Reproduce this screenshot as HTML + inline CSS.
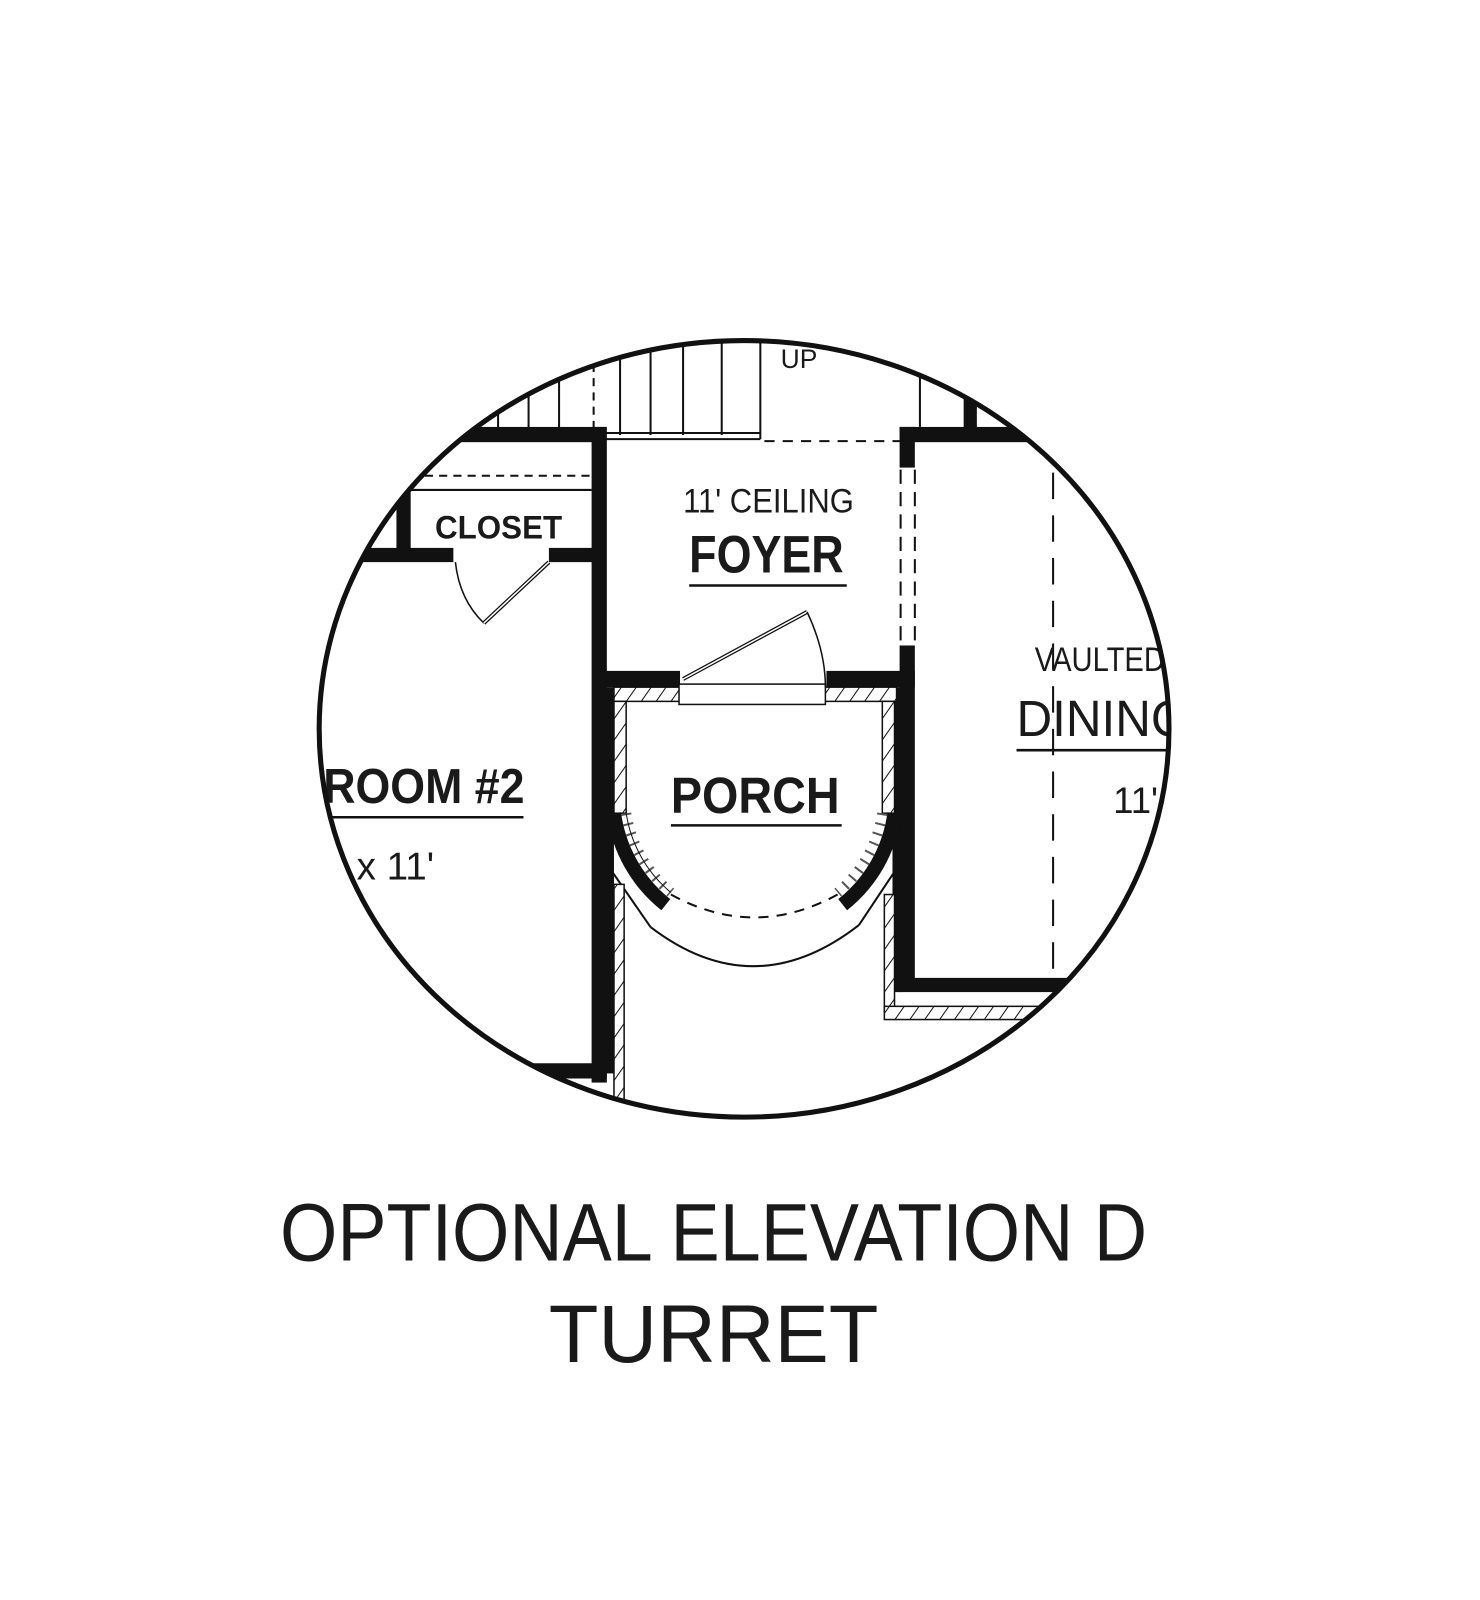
<!DOCTYPE html>
<html><head><meta charset="utf-8"><style>
html,body{margin:0;padding:0;background:#fff;}
svg{display:block;}
.t{font-family:"Liberation Sans",sans-serif;fill:#1a1a1a;}
</style></head><body>
<svg width="1480" height="1600" viewBox="0 0 1480 1600" xmlns="http://www.w3.org/2000/svg">
<defs>
<clipPath id="c"><ellipse cx="732" cy="717" rx="418" ry="382"/></clipPath>
<pattern id="h" width="12" height="12" patternUnits="userSpaceOnUse" patternTransform="rotate(35)">
<rect width="12" height="12" fill="#fff"/><line x1="0" y1="0" x2="0" y2="12" stroke="#111" stroke-width="2"/></pattern>
</defs>
<g transform="scale(1.0165)">
<g clip-path="url(#c)" stroke-linecap="butt">
<g stroke="#111" stroke-width="2">
<line x1="490" y1="330" x2="490" y2="430"/><line x1="520" y1="330" x2="520" y2="430"/><line x1="550" y1="330" x2="550" y2="430"/>
<line x1="584" y1="330" x2="584" y2="425" stroke-dasharray="8 6"/>
<line x1="610" y1="330" x2="610" y2="428"/><line x1="640" y1="330" x2="640" y2="428"/><line x1="672" y1="330" x2="672" y2="428"/>
<line x1="710" y1="330" x2="710" y2="428"/><line x1="748" y1="330" x2="748" y2="432"/>
<line x1="596" y1="426" x2="748" y2="426"/><line x1="596" y1="432" x2="748" y2="432"/>
<line x1="905" y1="330" x2="905" y2="420"/>
</g>
<text x="768" y="362" class="t" font-size="26">UP</text>
<g fill="#111">
<rect x="330" y="420" width="266" height="15"/>
<rect x="582" y="420" width="15" height="645"/>
<rect x="330" y="1046" width="267" height="15"/>
<rect x="390" y="482" width="14" height="70"/>
<rect x="330" y="539" width="116" height="14"/>
<rect x="540" y="539" width="45" height="14"/>
<rect x="885" y="420" width="200" height="15"/>
<rect x="948" y="385" width="13" height="40"/>
<rect x="885" y="420" width="15" height="40"/>
<rect x="885" y="635" width="15" height="340"/>
<rect x="885" y="962" width="200" height="14"/>
<rect x="596" y="660" width="73" height="16"/>
<rect x="813" y="660" width="87" height="16"/>
<rect x="596" y="676" width="8" height="380"/>
<rect x="878" y="676" width="8" height="300"/>
</g>
<line x1="404" y1="468" x2="582" y2="468" stroke="#111" stroke-width="2" stroke-dasharray="8 6"/>
<line x1="404" y1="482" x2="582" y2="482" stroke="#111" stroke-width="2"/>
<path d="M448 553 Q452 590 476 613" fill="none" stroke="#111" stroke-width="1.5"/>
<line x1="476" y1="613" x2="540" y2="553" stroke="#111" stroke-width="4"/>
<line x1="476" y1="613" x2="540" y2="553" stroke="#fff" stroke-width="1.5"/>
<line x1="752" y1="434" x2="885" y2="434" stroke="#111" stroke-width="2" stroke-dasharray="10 8"/>
<line x1="886" y1="462" x2="886" y2="635" stroke="#111" stroke-width="2" stroke-dasharray="14 8"/>
<line x1="900" y1="462" x2="900" y2="635" stroke="#111" stroke-width="2" stroke-dasharray="14 8"/>
<line x1="1036" y1="465" x2="1036" y2="970" stroke="#111" stroke-width="2" stroke-dasharray="26 16"/>
<rect x="604" y="676" width="278" height="14" fill="url(#h)" stroke="#111" stroke-width="1.5"/>
<rect x="604" y="690" width="12" height="110" fill="url(#h)" stroke="#111" stroke-width="1.5"/>
<rect x="868" y="690" width="12" height="110" fill="url(#h)" stroke="#111" stroke-width="1.5"/>
<rect x="668" y="673" width="144" height="20" fill="#fff" stroke="#111" stroke-width="1.5"/>
<line x1="672" y1="668" x2="794" y2="602" stroke="#111" stroke-width="4"/>
<line x1="672" y1="668" x2="794" y2="602" stroke="#fff" stroke-width="1.5"/>
<path d="M794 602 Q812 640 812 676" fill="none" stroke="#111" stroke-width="1.5"/>
<path d="M604 800 A138 138 0 0 0 655 890" fill="none" stroke="#111" stroke-width="14"/>
<path d="M880 800 A138 138 0 0 1 829 890" fill="none" stroke="#111" stroke-width="14"/>
<path d="M616 800 A126 126 0 0 0 660 878" fill="none" stroke="#555" stroke-width="10" stroke-dasharray="2 8"/>
<path d="M868 800 A126 126 0 0 1 824 878" fill="none" stroke="#555" stroke-width="10" stroke-dasharray="2 8"/>
<path d="M616 800 A126 126 0 0 0 660 878" fill="none" stroke="#111" stroke-width="1"/>
<path d="M660 880 Q742 925 824 880" fill="none" stroke="#111" stroke-width="2" stroke-dasharray="10 8"/>
<path d="M640 912 Q742 990 845 910" fill="none" stroke="#111" stroke-width="2"/>
<path d="M597 850 L640 912" stroke="#111" stroke-width="2" fill="none"/>
<path d="M885 850 L845 910" stroke="#111" stroke-width="2" fill="none"/>
<rect x="604" y="870" width="10" height="220" fill="url(#h)" stroke="#111" stroke-width="1.5"/>
<rect x="870" y="880" width="10" height="115" fill="url(#h)" stroke="#111" stroke-width="1.5"/>
<rect x="870" y="990" width="250" height="13" fill="url(#h)" stroke="#111" stroke-width="1.5"/>
<g class="t" font-weight="bold">
<text x="428" y="530" font-size="32" textLength="125" lengthAdjust="spacingAndGlyphs">CLOSET</text>
<text x="672" y="504" font-size="34" textLength="168" lengthAdjust="spacingAndGlyphs" font-weight="normal">11' CEILING</text>
<text x="678" y="563" font-size="52" textLength="152" lengthAdjust="spacingAndGlyphs">FOYER</text>
<text x="660" y="800" font-size="50" textLength="166" lengthAdjust="spacingAndGlyphs">PORCH</text>
<text x="318" y="790" font-size="48" textLength="198" lengthAdjust="spacingAndGlyphs">ROOM #2</text>
<text x="1018" y="660" font-size="34" textLength="128" lengthAdjust="spacingAndGlyphs" font-weight="normal">VAULTED</text>
<text x="1000" y="724" font-size="50" textLength="170" lengthAdjust="spacingAndGlyphs" font-weight="normal">DINING</text>
<text x="1095" y="800" font-size="36" font-weight="normal">11' x</text>
<text x="333" y="865" font-size="38" font-weight="normal">' x 11'</text>
</g>
<g stroke="#111" stroke-width="2.5">
<line x1="678" y1="576" x2="833" y2="576"/>
<line x1="660" y1="812" x2="828" y2="812"/>
<line x1="318" y1="804" x2="515" y2="804"/>
<line x1="1000" y1="738" x2="1160" y2="738"/>
</g>
</g>
<ellipse cx="732" cy="717" rx="418" ry="382" fill="none" stroke="#111" stroke-width="5"/>
<text x="702" y="1240" text-anchor="middle" class="t" font-size="80" textLength="853" lengthAdjust="spacingAndGlyphs" fill="#231f20">OPTIONAL ELEVATION D</text>
<text x="702" y="1340" text-anchor="middle" class="t" font-size="80" fill="#231f20">TURRET</text>
</g>
</svg>
</body></html>
